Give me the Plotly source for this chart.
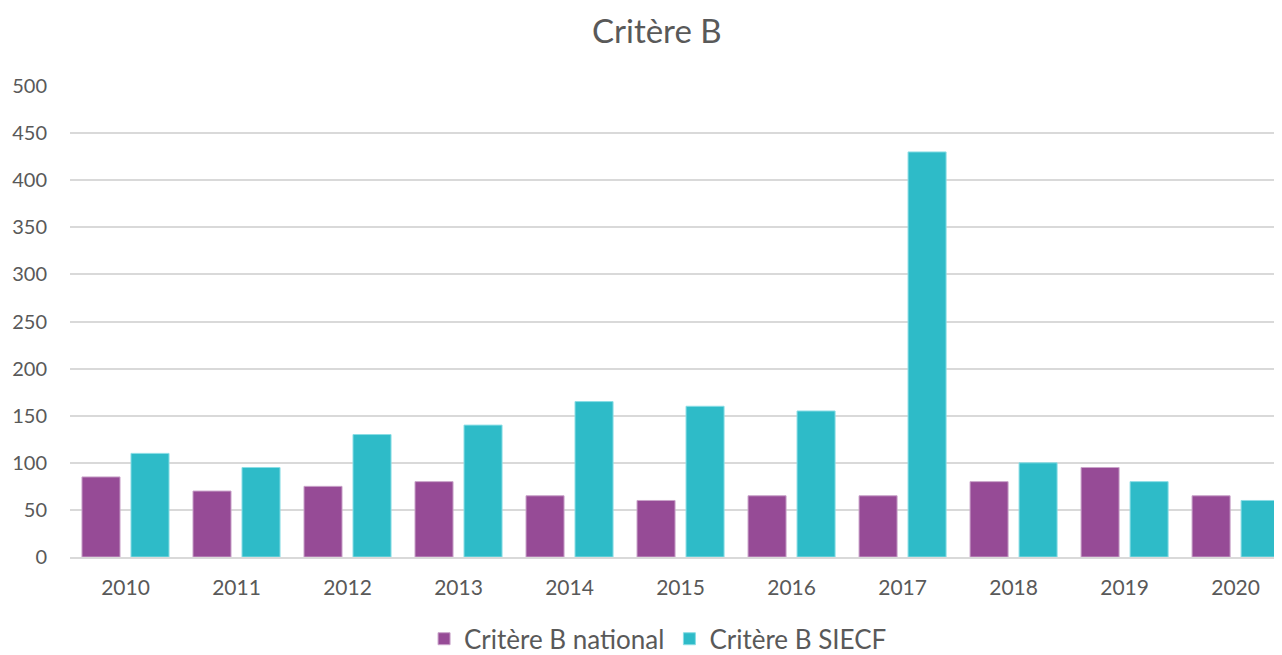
import plotly.graph_objects as go

years = ["2010", "2011", "2012", "2013", "2014", "2015", "2016", "2017", "2018", "2019", "2020"]
national = [85, 70, 75, 80, 65, 60, 65, 65, 80, 95, 65]
siecf = [110, 95, 130, 140, 165, 160, 155, 430, 100, 80, 60]
y_ticks = [0, 50, 100, 150, 200, 250, 300, 350, 400, 450, 500]

FONT = "Lato, 'Open Sans', sans-serif"
GREY = "#595959"

fig = go.Figure()
fig.add_trace(go.Bar(x=years, y=national, name="Critère B national",
                     marker=dict(color="#964B96", line=dict(color="#C9A3C9", width=1))))
fig.add_trace(go.Bar(x=years, y=siecf, name="Critère B SIECF",
                     marker=dict(color="#2EBBC8", line=dict(color="#8ADDE5", width=1))))

# page body has an 8px margin, so the figure is placed at (8, 8)
fig.update_layout(
    width=1274, height=647,
    margin=dict(l=62, r=2, t=78, b=98, autoexpand=False),
    paper_bgcolor="white", plot_bgcolor="white",
    barmode="group", bargap=0.117, bargroupgap=0.224,
    font=dict(family=FONT, color=GREY, size=16),
    title=dict(text="Critère B", x=0.485, xref="paper", xanchor="center",
               y=0.963, yanchor="middle",
               font=dict(size=33, color=GREY, family=FONT)),
    legend=dict(orientation="h", x=0.486, xanchor="center",
                yref="container", y=0.025, yanchor="middle",
                font=dict(size=26, color=GREY, family=FONT), itemwidth=30,
                traceorder="normal"),
    showlegend=True,
)
fig.update_xaxes(range=[-0.5, 10.4], showgrid=False, showline=True, linecolor="#D9D9D9",
                 linewidth=2, ticks="", tickfont=dict(size=21, color=GREY),
                 ticklabelstandoff=11)
fig.update_yaxes(range=[0, 500], tickvals=y_ticks, showgrid=True, gridcolor="#D9D9D9",
                 gridwidth=2, zeroline=False, showline=False, ticks="",
                 tickfont=dict(size=20, color=GREY), ticklabelstandoff=22)

fig.write_html("out.html")
